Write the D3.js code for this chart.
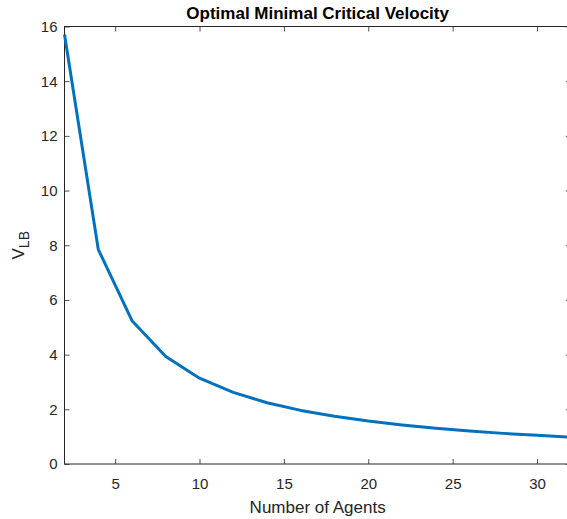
<!DOCTYPE html>
<html><head><meta charset="utf-8">
<script src="https://cdn.jsdelivr.net/npm/d3@7"></script>
<style>body{margin:0;background:#fff}svg{display:block}</style>
</head><body>
<svg id="c" width="567" height="519"></svg>
<script>
const agents = [2,4,6,8,10,12,14,16,18,20,22,24,26,28,30,32];
const velocity = [15.71,7.85,5.24,3.93,3.14,2.62,2.24,1.96,1.75,1.57,1.43,1.31,1.21,1.12,1.05,0.98];
const xTicks = [5,10,15,20,25,30];
const yTicks = [0,2,4,6,8,10,12,14,16];
const title = "Optimal Minimal Critical Velocity";
const xLabel = "Number of Agents";

const svg = d3.select("#c");
const L = 64.5, R = 570.8, T = 26.5, B = 464;
const x = d3.scaleLinear().domain([2,32]).range([L,R]);
const y = d3.scaleLinear().domain([0,16]).range([B,T]);
const axCol = "#262626";
const font = "'Liberation Sans', Arial, Helvetica, sans-serif";

function style(g){
  g.select(".domain").remove();
  g.selectAll("line").attr("stroke",axCol).attr("stroke-width",0.8);
  g.selectAll("text").attr("fill",axCol).style("font-family",font).style("font-size","15px");
}
// bottom
svg.append("g").attr("transform",`translate(0,${B})`)
  .call(d3.axisBottom(x).tickValues(xTicks).tickSize(-5).tickPadding(14).tickFormat(d3.format("d"))).call(style);
// top
svg.append("g").attr("transform",`translate(0,${T})`)
  .call(d3.axisTop(x).tickValues(xTicks).tickSize(-5).tickFormat("")).call(style);
// left
svg.append("g").attr("transform",`translate(${L},0)`)
  .call(d3.axisLeft(y).tickValues(yTicks).tickSize(-5).tickPadding(7).tickFormat(d3.format("d"))).call(style);
// right
svg.append("g").attr("transform",`translate(${R},0)`)
  .call(d3.axisRight(y).tickValues(yTicks).tickSize(-5).tickFormat("")).call(style);

// box
svg.append("rect").attr("x",L).attr("y",T).attr("width",R-L).attr("height",B-T)
  .attr("fill","none").attr("stroke",axCol).attr("stroke-width",1);

// line
const data = agents.map((a,i)=>({a, v:velocity[i]}));
svg.append("path").datum(data)
  .attr("fill","none").attr("stroke","#0072BD").attr("stroke-width",3)
  .attr("stroke-linejoin","round")
  .attr("d", d3.line().x(d=>x(d.a)).y(d=>y(d.v)));

// title
svg.append("text").attr("x",(L+R)/2).attr("y",19).attr("text-anchor","middle")
  .style("font-family",font).style("font-size","17px").style("font-weight","bold").attr("fill","#000")
  .text(title);
// x label
svg.append("text").attr("x",(L+R)/2).attr("y",513).attr("text-anchor","middle")
  .style("font-family",font).style("font-size","17px").attr("fill",axCol).text(xLabel);
// y label
const yl = svg.append("text").attr("transform",`translate(24,${(T+B)/2}) rotate(-90)`)
  .attr("text-anchor","middle").style("font-family",font).style("font-size","17px").attr("fill",axCol);
yl.append("tspan").text("V");
yl.append("tspan").attr("dy",5).style("font-size","14px").text("LB");
</script>
</body></html>
